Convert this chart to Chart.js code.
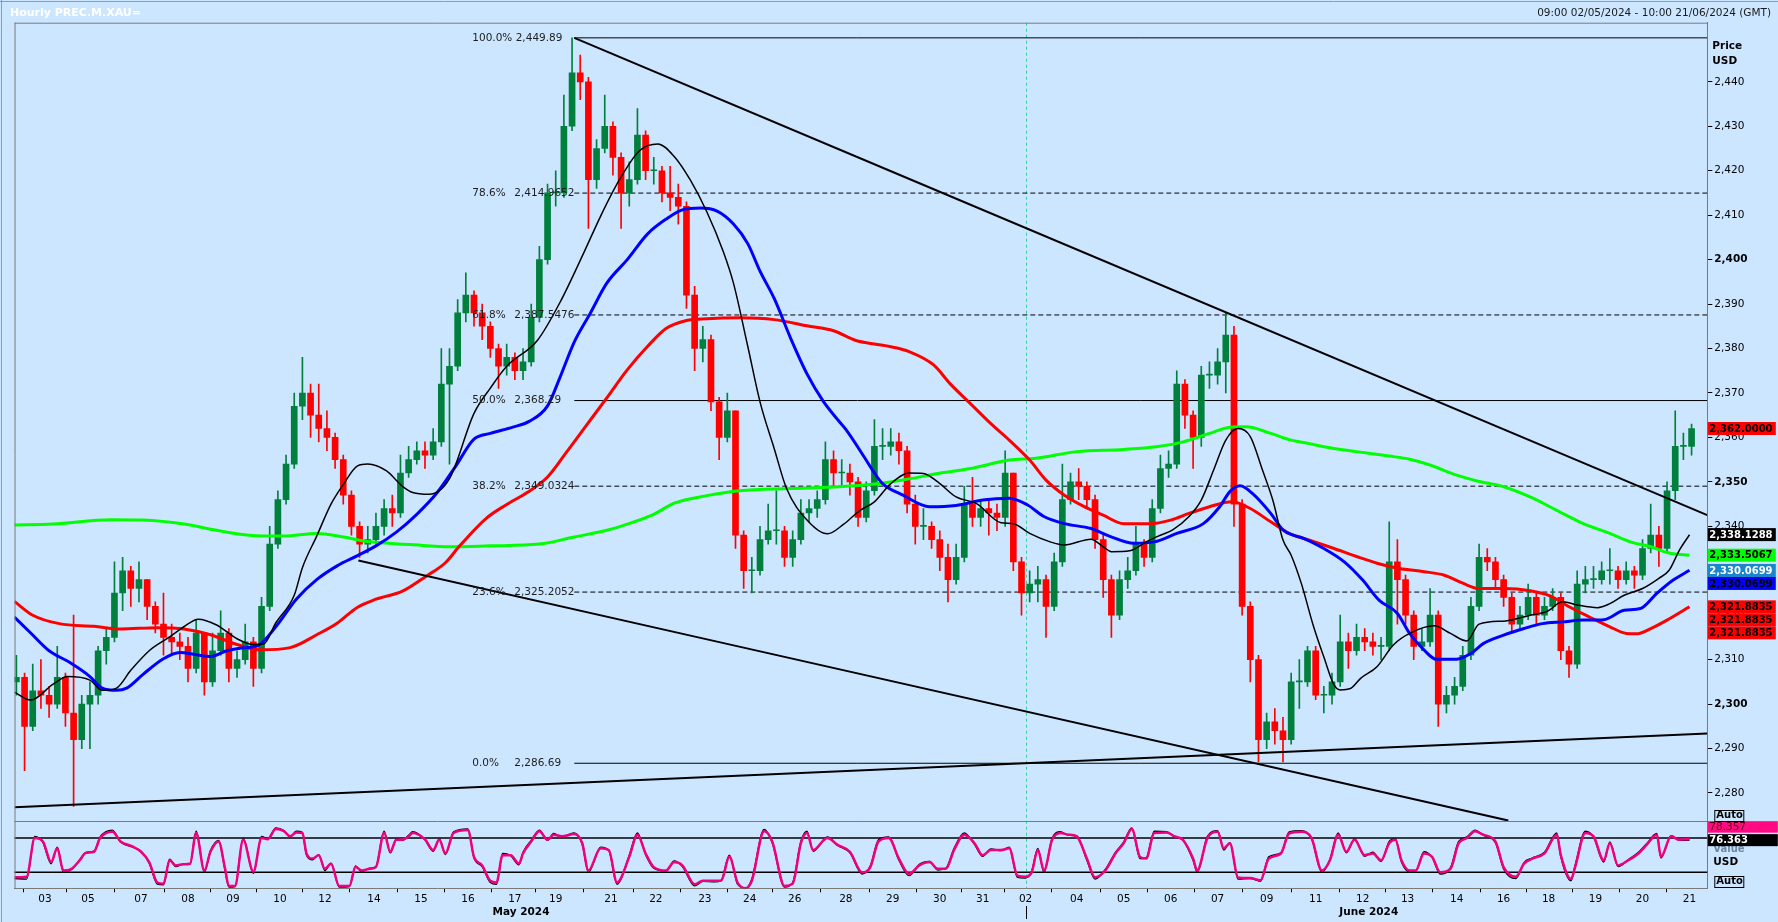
<!DOCTYPE html>
<html>
<head>
<meta charset="utf-8">
<title>Hourly PREC.M.XAU=</title>
<script src="https://cdn.jsdelivr.net/npm/chart.js@4.4.1/dist/chart.umd.min.js"></script>
<style>
  html, body { margin: 0; padding: 0; background: #cce6ff; overflow: hidden; }
  canvas { display: block; }
</style>
</head>
<body>
<canvas id="chart" width="1778" height="922"></canvas>
<script>
// Hourly gold, 09:00 02/05/2024 - 10:00 21/06/2024
// x values are hourly bar numbers counted from the first bar

const barStep = 4; // one candle for every 4 hourly bars
const firstOpen = 2305;
const close = [
  2306,2295,2303,2302,2300,2306,2298,2292,2300,2302, 2312,2315,2325,2330,2326,2328,2322,2318,2315,2314,
  2313,2308,2316,2305,2312,2316,2308,2310,2314,2308, 2322,2336,2346,2354,2367,2370,2365,2362,2360,2355,
  2347,2340,2336,2337,2340,2344,2343,2352,2355,2357, 2356,2359,2372,2376,2388,2392,2388,2385,2380,2376,
  2378,2375,2377,2387,2400,2415,2415,2430,2442,2440, 2418,2425,2430,2423,2415,2418,2428,2420,2420,2415,
  2414,2412,2392,2380,2382,2368,2360,2366,2338,2330, 2330,2337,2339,2339,2333,2337,2343,2344,2346,2355,
  2352,2352,2350,2342,2348,2358,2358,2359,2357,2345, 2340,2340,2337,2333,2328,2333,2345,2342,2344,2343,
  2342,2352,2332,2325,2327,2328,2322,2332,2346,2350, 2349,2346,2337,2328,2320,2328,2330,2336,2333,2344,
  2353,2354,2372,2365,2360,2374,2374,2377,2383,2345, 2322,2310,2292,2296,2294,2292,2305,2305,2312,2302,
  2302,2305,2314,2312,2315,2314,2313,2313,2332,2328, 2320,2313,2314,2320,2300,2302,2304,2311,2322,2333,
  2332,2328,2324,2318,2320,2324,2320,2322,2324,2312, 2309,2327,2328,2328,2330,2330,2328,2330,2329,2335,
  2338,2335,2348,2358,2358,2362
];
const high = [
  2311,2307,2309,2310,2304,2313,2307,2320,2302,2305, 2313,2317,2332,2333,2331,2332,2328,2323,2325,2318,
  2316,2315,2319,2316,2316,2321,2317,2312,2318,2315, 2324,2340,2348,2356,2370,2378,2372,2372,2366,2361,
  2356,2348,2341,2340,2343,2346,2347,2356,2358,2359, 2359,2362,2380,2380,2391,2397,2393,2390,2386,2381,
  2381,2379,2380,2390,2403,2417,2420,2437,2449.9,2446, 2441,2427,2437,2431,2424,2422,2434,2429,2423,2421,
  2421,2417,2413,2394,2385,2383,2369,2370,2366,2339, 2333,2340,2345,2348,2340,2339,2346,2346,2348,2359,
  2357,2355,2354,2351,2350,2364,2362,2362,2361,2358, 2347,2344,2341,2339,2336,2336,2349,2351,2346,2346,
  2345,2357,2352,2333,2330,2331,2329,2334,2354,2352, 2353,2350,2347,2338,2329,2330,2333,2340,2337,2346,
  2356,2357,2375,2373,2366,2376,2377,2380,2388,2385, 2346,2323,2311,2298,2299,2297,2307,2310,2313,2313,
  2304,2307,2320,2316,2318,2317,2316,2315,2341,2337, 2329,2321,2317,2326,2321,2304,2306,2313,2324,2336,
  2335,2333,2329,2325,2322,2327,2325,2324,2326,2325, 2313,2330,2331,2331,2332,2335,2331,2332,2331,2337,
  2345,2340,2350,2366,2361,2363
];
const low = [
  2302,2285,2294,2299,2297,2299,2295,2277,2290,2290, 2300,2309,2314,2321,2322,2323,2319,2316,2311,2311,
  2310,2305,2307,2302,2304,2311,2305,2306,2309,2304, 2307,2321,2335,2345,2353,2364,2360,2359,2357,2353,
  2345,2338,2333,2334,2336,2338,2340,2342,2351,2354, 2353,2355,2358,2354,2375,2386,2385,2382,2378,2371,
  2374,2373,2373,2376,2386,2399,2412,2414,2429,2436, 2407,2416,2424,2419,2407,2412,2417,2418,2417,2413,
  2411,2408,2389,2375,2377,2366,2355,2359,2335,2326, 2325,2329,2336,2336,2331,2331,2336,2341,2342,2345,
  2349,2349,2347,2340,2341,2347,2355,2356,2354,2343, 2336,2337,2335,2330,2323,2327,2332,2340,2340,2338,
  2339,2340,2330,2320,2323,2323,2315,2321,2331,2345, 2346,2344,2335,2324,2315,2319,2326,2329,2331,2332,
  2343,2351,2353,2362,2353,2358,2371,2372,2370,2340, 2320,2305,2287,2290,2291,2287,2291,2299,2304,2301,
  2298,2300,2304,2308,2311,2312,2311,2310,2312,2318, 2318,2310,2312,2313,2295,2298,2300,2303,2310,2321,
  2330,2326,2322,2316,2317,2319,2318,2319,2321,2310, 2306,2308,2325,2326,2327,2327,2326,2327,2326,2328,
  2334,2331,2334,2346,2355,2356
];

// moving averages, [bar, price]
const maBlack = [[-1,2302.7],[7,2300.9],[18,2304.5],[25,2306.2],[36,2305.4],[42,2303.1],[49,2303.6],[56,2307.6],[65,2312],[75,2315.1],[82,2317.4],[89,2319.1],[98,2317.8],[108,2314.7],[116,2313.4],[121,2313.5],[127,2318.3],[136,2324.5],[140,2330.7],[147,2337.8],[154,2345],[160,2349.4],[167,2353.6],[172,2354],[181,2352.5],[189,2349],[194,2347.6],[202,2347.2],[212,2350.7],[224,2365.4],[232,2371.1],[240,2376],[255,2381.8],[266,2390.3],[278,2401.8],[286,2409.8],[295,2417.8],[305,2424.5],[314,2426],[322,2423.2],[330,2417.8],[338,2410.7],[346,2401.8],[351,2394.7],[358,2380.5],[364,2368],[371,2357.4],[377,2348.5],[387,2341.4],[397,2338.3],[405,2340.5],[413,2343.6],[420,2345.5],[428,2349.6],[437,2352],[444,2351.9],[451,2350],[460,2346.6],[470,2345.1],[482,2340.8],[488,2340.6],[496,2338.4],[506,2336.5],[513,2335.8],[526,2337.1],[532,2335.4],[536,2334.3],[545,2334.5],[553,2336.5],[560,2338],[566,2339.2],[574,2342.2],[580,2345.9],[586,2352.6],[592,2359.4],[598,2362],[604,2360.2],[610,2352.6],[615,2345.9],[620,2336.9],[624,2333.5],[629,2327.1],[635,2317.4],[640,2310.6],[645,2304.3],[648,2303.2],[653,2303.5],[658,2305.8],[666,2308.4],[674,2313.3],[682,2315.9],[694,2317.6],[702,2315.9],[710,2314.2],[716,2318],[729,2318.7],[741,2320],[749,2320.8],[757,2323],[764,2322.3],[774,2321.7],[780,2322.6],[787,2324.5],[796,2326],[804,2328.3],[809,2330.1],[814,2334.6],[819,2338.1]];
const maBlue = [[-1,2319.6],[7,2316],[16,2312],[26,2309.4],[36,2306.2],[42,2303.6],[49,2303.1],[54,2303.6],[62,2306.7],[72,2310.2],[80,2311.6],[88,2311.1],[95,2310.7],[103,2312],[111,2312.7],[118,2313.1],[127,2317.4],[137,2323.6],[147,2328],[157,2331.1],[167,2333.4],[176,2335.6],[186,2338.7],[196,2342.7],[206,2347.6],[215,2353.5],[224,2359.6],[232,2360.9],[243,2362.3],[251,2363.6],[260,2367.1],[266,2373.4],[273,2381.4],[281,2388],[289,2394.7],[299,2400],[309,2405.8],[318,2409.1],[326,2411.2],[335,2411.6],[343,2410.9],[351,2408],[358,2403.6],[364,2397.4],[371,2391.2],[379,2382.3],[387,2374.3],[395,2368.1],[402,2364],[406,2361.8],[415,2355.6],[420,2352],[424,2349.6],[434,2347],[447,2344.4],[460,2344.7],[473,2345.9],[486,2346.3],[495,2344.8],[503,2342.2],[513,2340.6],[526,2339.5],[535,2337.8],[547,2336.2],[557,2336.5],[568,2338.4],[581,2340.6],[589,2344.4],[594,2347.8],[599,2349.1],[605,2347.4],[614,2342.9],[620,2339.2],[625,2338],[630,2337.3],[640,2335],[650,2332],[659,2327.9],[667,2323.4],[676,2320.4],[682,2315.9],[689,2312.2],[695,2310.1],[705,2310.1],[712,2311.4],[718,2313.6],[728,2315.5],[738,2317],[747,2318.1],[757,2318.5],[767,2318.9],[777,2319],[787,2321.1],[795,2321.5],[803,2324.9],[811,2327.9],[819,2330.1]];
const maRed = [[-1,2323.1],[8,2320],[21,2318.1],[38,2317.5],[51,2316.9],[69,2317.2],[82,2316.9],[95,2315.6],[108,2313.4],[119,2312.2],[134,2312.7],[147,2315.6],[157,2318.2],[167,2321.8],[176,2323.6],[189,2325.4],[201,2328.9],[210,2331.8],[217,2335.6],[230,2341.8],[240,2344.9],[250,2347.6],[260,2351.1],[269,2356.5],[279,2362.7],[289,2368.9],[299,2375.2],[309,2380.5],[318,2384.5],[328,2386.3],[338,2386.7],[354,2386.9],[371,2386.5],[387,2385.1],[400,2384],[411,2381.8],[420,2381],[428,2380.4],[437,2379.3],[449,2376.3],[457,2372.1],[467,2367.6],[477,2363.1],[486,2359.4],[496,2354.9],[504,2350.4],[513,2347],[522,2344.6],[532,2342.5],[542,2340.6],[555,2340.6],[565,2341.4],[574,2342.9],[584,2344.4],[595,2345.5],[604,2344],[614,2341],[623,2338.4],[633,2336.9],[645,2335],[656,2333.2],[666,2331.7],[677,2330.5],[689,2329.8],[699,2329],[708,2327.2],[716,2326],[728,2326],[741,2325.5],[751,2324.3],[760,2321.9],[770,2319.6],[780,2317.4],[788,2315.9],[793,2315.8],[800,2317],[808,2318.9],[819,2321.9]];
const maGreen = [[-1,2340.3],[18,2340.5],[46,2341.5],[62,2341.4],[82,2340.5],[98,2339.1],[114,2338],[131,2337.8],[147,2338.4],[160,2337.6],[173,2336.5],[193,2335.9],[212,2335.4],[232,2335.6],[256,2336],[273,2337.6],[289,2339.1],[299,2340.5],[312,2342.7],[322,2345.2],[338,2346.9],[354,2348],[379,2348.5],[403,2348.9],[420,2349.5],[434,2350.4],[451,2351.9],[467,2353],[486,2354.9],[499,2355.3],[519,2356.8],[542,2357.3],[558,2357.9],[571,2359],[584,2360.9],[594,2362.3],[602,2362.4],[614,2360.9],[623,2359.5],[633,2358.6],[640,2357.9],[656,2356.8],[672,2355.8],[682,2355.1],[692,2353.8],[705,2351.5],[715,2350.2],[728,2348.9],[741,2346.6],[754,2343.6],[767,2340.6],[780,2338.4],[790,2336.5],[800,2335.4],[809,2334],[819,2333.5]];

// drawn trend lines, [bar, price]
const trendUpper = [[273.1, 2449.9], [827.7, 2342.5]];
const trendLowerFall = [[167.4, 2332.3], [730.3, 2273.8]];
const trendLowerRise = [[-0.9, 2276.8], [827.7, 2293.4]];

// fibonacci retracement
const fibStartBar = 273.1;
const fibLevels = [2449.89, 2414.9652, 2387.5476, 2368.29, 2349.0324, 2325.2052, 2286.69];
const fibPct = ['100.0%', '78.6%', '61.8%', '50.0%', '38.2%', '23.6%', '0.0%'];
const fibPriceText = ['2,449.89', '2,414.9652', '2,387.5476', '2,368.29', '2,349.0324', '2,325.2052', '2,286.69'];
const fibDashed = [false, true, true, false, true, true, false];

// stochastic, [bar, value]
const stochD = [[-1,11],[5,12],[9,80],[13,74],[17,38],[20,62],[23,23],[27,26],[31,41],[34,54],[38,56],[41,80],[47,91],[51,74],[57,65],[61,56],[65,38],[69,2],[72,0],[75,41],[78,32],[82,34],[85,35],[88,89],[92,23],[95,56],[99,74],[102,29],[104,-4],[107,-4],[111,77],[116,21],[120,80],[123,78],[127,96],[131,92],[134,83],[137,90],[140,89],[142,53],[145,44],[148,50],[151,26],[154,35],[158,-4],[163,-4],[166,29],[169,23],[173,26],[176,29],[180,89],[183,56],[186,77],[189,77],[192,83],[194,89],[200,78],[204,59],[207,77],[210,53],[214,89],[221,94],[224,47],[228,32],[232,5],[235,2],[238,50],[242,50],[246,35],[248,53],[252,74],[256,92],[260,77],[263,86],[267,83],[273,87],[277,71],[280,23],[286,62],[290,59],[294,2],[300,47],[304,86],[308,53],[312,29],[318,23],[322,38],[326,32],[332,-1],[336,5],[342,5],[345,5],[349,47],[353,2],[357,-8],[360,5],[366,92],[370,74],[376,-4],[380,0],[384,71],[387,89],[390,59],[397,80],[402,68],[408,56],[414,20],[418,29],[422,74],[427,80],[432,44],[437,17],[442,32],[447,38],[451,26],[455,26],[459,59],[464,86],[469,71],[473,50],[477,59],[482,59],[486,62],[490,14],[494,12],[497,20],[500,59],[503,23],[507,77],[511,89],[515,86],[519,83],[524,44],[528,11],[533,23],[538,53],[542,71],[546,96],[550,47],[553,44],[557,89],[563,90],[567,83],[571,77],[576,44],[578,23],[583,80],[588,91],[591,62],[594,71],[598,11],[604,10],[609,6],[613,44],[619,53],[623,88],[629,91],[634,80],[639,23],[643,41],[647,86],[651,56],[655,77],[660,50],[664,53],[668,41],[672,71],[675,77],[678,41],[682,23],[685,23],[689,53],[693,47],[697,20],[702,26],[706,71],[710,80],[714,92],[718,86],[724,74],[728,29],[734,12],[738,35],[742,44],[748,53],[754,86],[756,50],[761,8],[763,29],[768,89],[772,83],[777,41],[780,71],[784,32],[789,41],[794,53],[798,68],[803,86],[805,47],[810,83],[814,77],[819,78.4]];
const stochK = [[-1,9],[5,8],[9,83],[13,72],[17,35],[20,64],[23,20],[27,25],[31,42],[34,55],[38,57],[41,82],[47,94],[51,73],[57,64],[61,57],[65,36],[69,-1],[72,-2],[75,43],[78,30],[82,35],[85,34],[88,92],[92,20],[95,58],[99,76],[102,26],[104,-6],[107,-5],[111,80],[116,18],[120,83],[123,79],[127,98],[131,93],[134,82],[137,92],[140,90],[142,50],[145,42],[148,51],[151,23],[154,36],[158,-6],[163,-5],[166,31],[169,21],[173,27],[176,30],[180,92],[183,54],[186,79],[189,76],[192,85],[194,91],[200,77],[204,57],[207,79],[210,51],[214,91],[221,96],[224,45],[228,30],[232,2],[235,-1],[238,53],[242,49],[246,33],[248,55],[252,76],[256,94],[260,76],[263,88],[267,82],[273,89],[277,69],[280,20],[286,64],[290,58],[294,-1],[300,50],[304,89],[308,51],[312,27],[318,22],[322,40],[326,30],[332,-4],[336,4],[342,3],[345,6],[349,50],[353,-1],[357,-9],[360,8],[366,95],[370,72],[376,-6],[380,2],[384,74],[387,92],[390,57],[397,82],[402,67],[408,54],[414,17],[418,31],[422,77],[427,82],[432,41],[437,14],[442,34],[447,39],[451,24],[455,27],[459,62],[464,89],[469,69],[473,48],[477,61],[482,58],[486,64],[490,11],[494,10],[497,22],[500,62],[503,20],[507,80],[511,91],[515,85],[519,84],[524,41],[528,8],[533,25],[538,55],[542,73],[546,98],[550,44],[553,45],[557,92],[563,91],[567,82],[571,76],[576,41],[578,20],[583,83],[588,93],[591,59],[594,72],[598,8],[604,9],[609,4],[613,47],[619,54],[623,91],[629,93],[634,79],[639,20],[643,43],[647,89],[651,54],[655,79],[660,48],[664,55],[668,39],[672,74],[675,79],[678,38],[682,21],[685,22],[689,56],[693,46],[697,17],[702,28],[706,74],[710,82],[714,94],[718,85],[724,72],[728,26],[734,9],[738,37],[742,45],[748,55],[754,89],[756,47],[761,5],[763,32],[768,92],[772,82],[777,38],[780,73],[784,30],[789,42],[794,55],[798,70],[803,88],[805,45],[810,84],[814,76],[819,76.4]];
const oscLevels = [80, 20];

// axis labels
const priceTicks = [2280,2285,2290,2295,2300,2305,2310,2315,2320,2325,2330,2335,2340,2345,2350,2355,2360,2365,2370,2375,2380,2385,2390,2395,2400,2405,2410,2415,2420,2425,2430,2435,2440];
const dayTickBars = [14,35,61,84,106,129,151,175,198,221,244,264,291,313,337,359,381,406,429,452,473,494,519,542,565,588,612,636,659,681,705,728,750,773,796,819];
const dayTickLabels = ['03','05','07','08','09','10','12','14','15','16','17','19','21','22','23','24','26','28','29','30','31','02','04','05','06','07','09','11','12','13','14','16','18','19','20','21'];
const monthLabels = ['May 2024', 'June 2024'];
const monthLabelBars = [247, 662];
const monthStartBar = 494;

// last values shown on the price axis
const priceBoxValues = [2362.0, 2338.1288, 2333.5067, 2330.0699, 2330.0699, 2321.8835, 2321.8835, 2321.8835];
const priceBoxText = ['2,362.0000', '2,338.1288', '2,333.5067', '2,330.0699', '2,330.0699', '2,321.8835', '2,321.8835', '2,321.8835'];
const priceBoxBg = ['#ff0000', '#000000', '#00ff00', '#1a86cc', '#0000ff', '#ff0000', '#ff0000', '#ff0000'];
const priceBoxFg = ['#000000', '#ffffff', '#000000', '#ffffff', '#000000', '#000000', '#000000', '#000000'];
const oscBoxText = ['78.357', '76.363'];
const oscBoxValue = 76.363;

const BG = '#cce6ff';
const FONT = "'DejaVu Sans', sans-serif";
const UP = '#00803c';
const DOWN = '#ff0000';
const X_MIN = -0.93, X_MAX = 827.7;

function fmt(v) {
  return String(v).replace(/\B(?=(\d{3})+(?!\d))/g, ',');
}

const opens = close.map((c, i) => i === 0 ? firstOpen : close[i - 1]);
const candleColors = close.map((c, i) => c >= opens[i] ? UP : DOWN);
const bodyData = close.map((c, i) => ({ x: i * barStep, y: [opens[i], c] }));
const wickData = close.map((c, i) => ({
  x: i * barStep,
  y: [Math.min(low[i], opens[i], c), Math.max(high[i], opens[i], c)]
}));

function lineSet(points, color, width, order, axis, dash) {
  return {
    type: 'line',
    data: points.map(p => ({ x: p[0], y: p[1] })),
    borderColor: color,
    borderWidth: width,
    borderDash: dash || [],
    pointRadius: 0,
    fill: false,
    cubicInterpolationMode: 'monotone',
    order: order,
    yAxisID: axis || 'y'
  };
}

const datasets = [];
fibLevels.forEach((lv, i) => {
  datasets.push(lineSet([[fibStartBar, lv], [X_MAX, lv]], '#000', 1, 9, 'y', fibDashed[i] ? [5, 3] : []));
});
datasets.push({ type: 'bar', data: wickData, backgroundColor: candleColors, barThickness: 1, grouped: false, order: 8, yAxisID: 'y' });
datasets.push({ type: 'bar', data: bodyData, backgroundColor: candleColors, barThickness: 6, grouped: false, minBarLength: 1, order: 7, yAxisID: 'y' });
datasets.push(lineSet(maGreen, '#00ff00', 3, 6));
datasets.push(lineSet(maRed, '#ff0000', 3, 5));
datasets.push(lineSet(maBlue, '#0000ff', 3, 4));
datasets.push(lineSet(maBlack, '#000000', 1.5, 3));
datasets.push(lineSet(trendLowerRise, '#000000', 2, 2));
datasets.push(lineSet(trendLowerFall, '#000000', 2, 2));
datasets.push(lineSet(trendUpper, '#000000', 2, 2));
datasets.push(lineSet(stochK, '#000000', 1.4, 1, 'y2'));
datasets.push(lineSet(stochD, '#f0007f', 2.5, 0, 'y2'));

// everything the library has no element for
const overlay = {
  id: 'overlay',
  beforeDraw(chart) {
    const ctx = chart.ctx;
    ctx.save();
    ctx.fillStyle = BG;
    ctx.fillRect(0, 0, chart.width, chart.height);
    ctx.strokeStyle = '#9a9a9a';
    ctx.lineWidth = 1;
    ctx.beginPath();
    ctx.moveTo(0, 1.5); ctx.lineTo(chart.width, 1.5);
    ctx.moveTo(1.5, 0); ctx.lineTo(1.5, chart.height);
    ctx.stroke();
    ctx.textBaseline = 'middle';
    ctx.font = 'bold 11px ' + FONT;
    ctx.fillStyle = '#ffffff';
    ctx.fillText('Hourly PREC.M.XAU=', 10, 13);
    ctx.font = '10.5px ' + FONT;
    ctx.fillStyle = '#1a1a1a';
    ctx.textAlign = 'right';
    ctx.fillText('09:00 02/05/2024 - 10:00 21/06/2024 (GMT)', 1771, 13);
    ctx.restore();
  },
  beforeDatasetsDraw(chart) {
    const { ctx, chartArea: a, scales: { x, y2 } } = chart;
    ctx.save();
    const mx = Math.round(x.getPixelForValue(monthStartBar)) + 0.5;
    ctx.strokeStyle = '#2fd39a';
    ctx.lineWidth = 1;
    ctx.setLineDash([3, 3]);
    ctx.beginPath();
    ctx.moveTo(mx, a.top); ctx.lineTo(mx, a.bottom);
    ctx.stroke();
    ctx.setLineDash([]);
    ctx.strokeStyle = '#000';
    ctx.lineWidth = 1.5;
    oscLevels.forEach(v => {
      const py = y2.getPixelForValue(v);
      ctx.beginPath();
      ctx.moveTo(a.left, py); ctx.lineTo(a.right, py);
      ctx.stroke();
    });
    ctx.restore();
  },
  afterDatasetsDraw(chart) {
    const { ctx, chartArea: a, scales: { x, y } } = chart;
    ctx.save();
    // fibonacci labels
    ctx.font = '10.5px ' + FONT;
    ctx.fillStyle = '#1e1e1e';
    ctx.textBaseline = 'middle';
    const sx = x.getPixelForValue(fibStartBar);
    fibLevels.forEach((lv, i) => {
      const py = y.getPixelForValue(lv);
      if (i === 0) {
        ctx.fillText(fibPct[i] + ' ' + fibPriceText[i], sx - 102, py);
      } else {
        ctx.fillText(fibPct[i], sx - 102, py);
        ctx.fillText(fibPriceText[i], sx - 60, py);
      }
    });
    // panel frames
    ctx.strokeStyle = '#7a7a7a';
    ctx.lineWidth = 1;
    ctx.beginPath();
    ctx.moveTo(a.left + 0.5, a.top); ctx.lineTo(a.left + 0.5, a.bottom);
    ctx.moveTo(a.left, a.top + 0.5); ctx.lineTo(a.right, a.top + 0.5);
    ctx.moveTo(a.left, Math.round(y.bottom) + 0.5); ctx.lineTo(a.right, Math.round(y.bottom) + 0.5);
    ctx.stroke();
    ctx.restore();
  },
  afterDraw(chart) {
    const { ctx, scales: { x, y, y2 } } = chart;
    const left = y.left;
    ctx.save();
    ctx.textBaseline = 'middle';
    ctx.textAlign = 'left';

    ctx.font = 'bold 10.5px ' + FONT;
    ctx.fillStyle = '#000';
    ctx.fillText('Price', left + 5, 46);
    ctx.fillText('USD', left + 5, 61);

    // value boxes on the price axis, pushed down when they overlap
    const h = 13;
    let prevBottom = -1;
    ctx.font = 'bold 10px ' + FONT;
    priceBoxValues.forEach((v, i) => {
      let top = y.getPixelForValue(v) - h / 2;
      if (top < prevBottom) top = prevBottom;
      ctx.fillStyle = priceBoxBg[i];
      ctx.fillRect(left + 0.5, top, 68, h);
      ctx.fillStyle = priceBoxFg[i];
      ctx.fillText(priceBoxText[i], left + 2, top + h / 2 + 0.5);
      prevBottom = top + h;
    });

    // oscillator labels
    ctx.font = 'bold 10px ' + FONT;
    ctx.fillStyle = '#6f8aa0';
    ctx.fillText('Value', left + 6, 849);
    ctx.fillStyle = '#000';
    ctx.font = 'bold 10.5px ' + FONT;
    ctx.fillText('USD', left + 6, 862);
    const kTop = y2.getPixelForValue(oscBoxValue) - 6;
    ctx.font = 'bold 10px ' + FONT;
    ctx.fillStyle = '#000';
    ctx.fillRect(left + 0.5, kTop, 70, 12);
    ctx.fillStyle = '#fff';
    ctx.fillText(oscBoxText[1], left + 2, kTop + 6.5);
    ctx.fillStyle = '#ff0a82';
    ctx.fillRect(left + 0.5, kTop - 13, 70, 11.5);
    ctx.fillStyle = '#5a0010';
    ctx.font = '10.5px ' + FONT;
    ctx.fillText(oscBoxText[0], left + 2, kTop - 7);

    // Auto buttons
    ctx.font = 'bold 10px ' + FONT;
    [y.bottom - 6, y2.bottom - 7].forEach(cy => {
      ctx.strokeStyle = '#000';
      ctx.lineWidth = 1;
      ctx.strokeRect(left + 7.5, Math.round(cy - 5.5) + 0.5, 29, 11);
      ctx.fillStyle = '#000';
      ctx.fillText('Auto', left + 9, cy + 0.5);
    });

    // months under the day labels
    ctx.textAlign = 'center';
    ctx.font = 'bold 10.5px ' + FONT;
    monthLabels.forEach((m, i) => {
      ctx.fillText(m, x.getPixelForValue(monthLabelBars[i]), 912);
    });
    const mx = Math.round(x.getPixelForValue(monthStartBar)) + 0.5;
    ctx.beginPath();
    ctx.moveTo(mx, 906); ctx.lineTo(mx, 919);
    ctx.stroke();
    ctx.restore();
  }
};

new Chart(document.getElementById('chart'), {
  type: 'line',
  data: { datasets: datasets },
  plugins: [overlay],
  options: {
    responsive: false,
    devicePixelRatio: 1,
    animation: false,
    events: [],
    layout: { padding: { left: 14.5, top: 22.7, right: 0, bottom: 0 } },
    plugins: { legend: { display: false }, tooltip: { enabled: false } },
    scales: {
      x: {
        type: 'linear',
        min: X_MIN,
        max: X_MAX,
        offset: false,
        afterBuildTicks: s => { s.ticks = dayTickBars.map(v => ({ value: v })); },
        afterFit: s => { s.height = 33.7; },
        ticks: {
          autoSkip: false,
          maxRotation: 0,
          padding: 1,
          color: '#000',
          font: { family: FONT, size: 10.5 },
          callback: (v, i) => dayTickLabels[i]
        },
        grid: { drawOnChartArea: false, tickLength: 4, color: '#000' },
        border: { color: '#7a7a7a' }
      },
      y: {
        type: 'linear',
        position: 'right',
        stack: 'panels',
        stackWeight: 798.3,
        min: 2273.7,
        max: 2453.3,
        afterBuildTicks: s => { s.ticks = priceTicks.map(v => ({ value: v })); },
        afterFit: s => { s.width = 70.7; },
        ticks: {
          padding: 2,
          color: '#000',
          font: ctx => ({ family: FONT, size: 10.5, weight: ctx.tick && ctx.tick.value % 50 === 0 ? 'bold' : 'normal' }),
          callback: v => fmt(v)
        },
        grid: { drawOnChartArea: false, tickLength: 5, color: '#000' },
        border: { color: '#7a7a7a' }
      },
      y2: {
        type: 'linear',
        position: 'right',
        stack: 'panels',
        stackWeight: 67.3,
        min: -8.2,
        max: 110,
        afterFit: s => { s.width = 70.7; },
        ticks: { display: false },
        grid: { display: false },
        border: { color: '#7a7a7a' }
      }
    }
  }
});
</script>
</body>
</html>
